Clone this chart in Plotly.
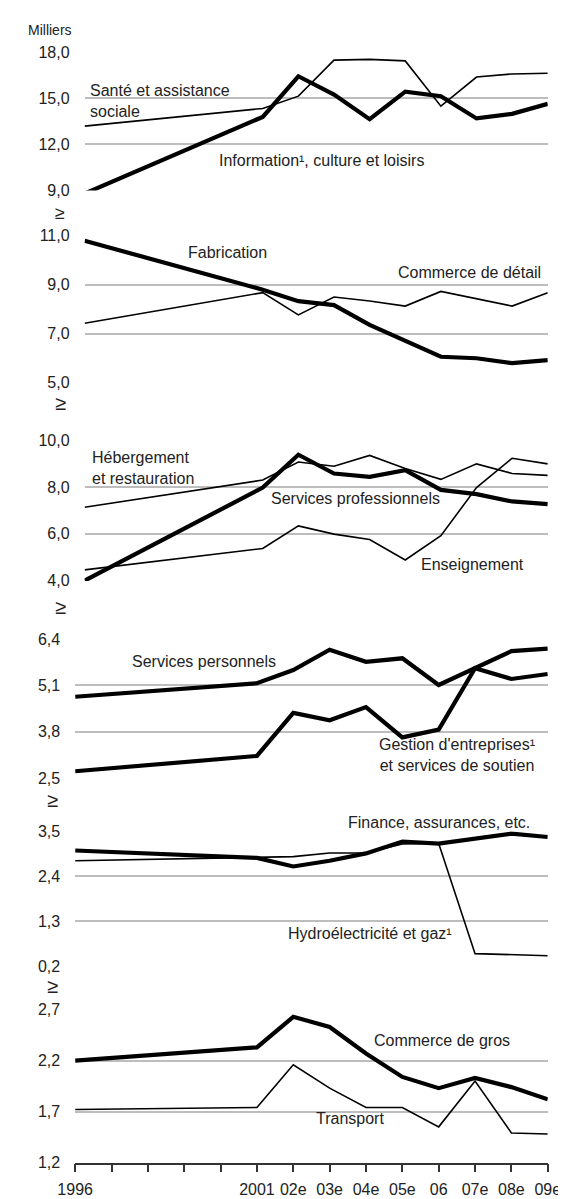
import plotly.graph_objects as go

FONT = "Liberation Sans, Arial, sans-serif"
W, H = 566, 1199

years = [1996, 2001, 2002, 2003, 2004, 2005, 2006, 2007, 2008, 2009]
tick_years = list(range(1996, 2010))
tick_labels = ["1996", "", "", "", "", "2001", "02e", "03e", "04e", "05e", "06", "07e", "08e", "09e"]

# panel 1
sante = [13.2, 14.35, 15.15, 17.5, 17.55, 17.45, 14.5, 16.4, 16.6, 16.65]
information = [8.8, 13.8, 16.45, 15.25, 13.65, 15.45, 15.15, 13.7, 14.0, 14.65]
# panel 2
fabrication = [10.8, 8.8, 8.33, 8.17, 7.36, 6.69, 6.06, 6.0, 5.8, 5.92]
commerce_detail = [7.43, 8.68, 7.77, 8.5, 8.34, 8.13, 8.73, 8.43, 8.13, 8.68]
# panel 3
hebergement = [7.13, 8.29, 9.06, 8.88, 9.34, 8.78, 8.32, 8.98, 8.57, 8.49]
services_pro = [4.01, 7.97, 9.37, 8.57, 8.43, 8.71, 7.87, 7.69, 7.38, 7.27]
enseignement = [4.47, 5.38, 6.34, 5.99, 5.76, 4.89, 5.92, 7.97, 9.22, 8.98]
# panel 4
services_perso = [4.78, 5.16, 5.53, 6.1, 5.76, 5.86, 5.11, 5.58, 6.06, 6.13]
gestion = [2.69, 3.12, 4.33, 4.12, 4.49, 3.64, 3.86, 5.58, 5.28, 5.42]
# panel 5
finance = [3.03, 2.85, 2.64, 2.78, 2.96, 3.25, 3.2, 3.31, 3.44, 3.36]
hydro = [2.78, 2.87, 2.88, 2.97, 2.97, 3.19, 3.2, 0.51, 0.49, 0.46]
# panel 6
commerce_gros = [2.2, 2.33, 2.63, 2.53, 2.27, 2.04, 1.93, 2.03, 1.94, 1.82]
transport = [1.72, 1.74, 2.16, 1.93, 1.74, 1.74, 1.55, 2.0, 1.49, 1.48]

y_ticks = [
    [9.0, 12.0, 15.0, 18.0],
    [5.0, 7.0, 9.0, 11.0],
    [4.0, 6.0, 8.0, 10.0],
    [2.5, 3.8, 5.1, 6.4],
    [0.2, 1.3, 2.4, 3.5],
    [1.2, 1.7, 2.2, 2.7],
]

# series of each panel: (values, thick?)
panels = [
    [(sante, False), (information, True)],
    [(commerce_detail, False), (fabrication, True)],
    [(hebergement, False), (enseignement, False), (services_pro, True)],
    [(services_perso, True), (gestion, True)],
    [(hydro, False), (finance, True)],
    [(transport, False), (commerce_gros, True)],
]

# pixel boxes of the panels: left, right, top, bottom
boxes = [
    (62, 552, 37, 177),
    (62, 552, 223, 372),
    (62, 552, 430, 573),
    (52, 552, 632, 773),
    (52, 552, 827, 964),
    (52, 552, 1008, 1163),
]

fig = go.Figure()
layout = dict()

for i, (series, ticks, box) in enumerate(zip(panels, y_ticks, boxes)):
    n = "" if i == 0 else str(i + 1)
    left, right, top, bottom = box
    for values, thick in series:
        fig.add_trace(go.Scatter(
            x=years, y=values, mode="lines",
            line=dict(color="black", width=4.2 if thick else 1.6),
            xaxis="x" + n, yaxis="y" + n, showlegend=False,
            hoverinfo="skip"
        ))
    last = i == len(panels) - 1
    layout["xaxis" + n] = dict(
        domain=[left / W, right / W],
        range=[1996, 2009],
        anchor="y" + n,
        showgrid=False,
        zeroline=False,
        showline=last,
        linecolor="#333333",
        linewidth=1.5,
        ticks="outside" if last else "",
        tickcolor="#333333",
        ticklen=8,
        tickwidth=1.5,
        tickvals=tick_years,
        ticktext=tick_labels,
        showticklabels=last,
        ticklabelstandoff=4,
        tickfont=dict(family=FONT, size=16, color="#222222"),
    )
    layout["yaxis" + n] = dict(
        domain=[1 - bottom / H, 1 - top / H],
        range=[ticks[0], ticks[-1]],
        anchor="x" + n,
        tickvals=ticks,
        ticktext=[("%.1f" % t).replace(".", ",") for t in ticks],
        showgrid=True,
        gridcolor="#bdbdbd",
        gridwidth=2,
        zeroline=False,
        showline=False,
        ticks="",
        ticklabelstandoff=14,
        tickfont=dict(family=FONT, size=16, color="#222222"),
    )

annotations = []


def label(text, x, y, panel, xanchor="center", align="center", yshift=0):
    n = "" if panel == 1 else str(panel)
    annotations.append(dict(
        text=text, x=x, y=y, xref="x" + n, yref="y" + n,
        xanchor=xanchor, yanchor="middle", align=align, showarrow=False,
        yshift=yshift,
        font=dict(family=FONT, size=16, color="#222222"),
    ))


label("Santé et assistance<br>sociale", 1996.1, 14.85, 1, xanchor="left", align="left")
label("Information¹, culture et loisirs", 2002.65, 10.95, 1)
label("Fabrication", 2000.0, 10.32, 2)
label("Commerce de détail", 2006.8, 9.51, 2)
label("Hébergement<br>et restauration", 1996.15, 8.8, 3, xanchor="left", align="left")
label("Services professionnels", 2003.6, 7.51, 3)
label("Enseignement", 2006.9, 4.68, 3)
label("Services personnels", 1999.55, 5.76, 4)
label("Gestion d'entreprises¹<br>et services de soutien", 2006.5, 3.14, 4)
label("Finance, assurances, etc.", 2006.0, 3.5, 5, yshift=9)
label("Hydroélectricité et gaz¹", 2004.1, 1.0, 5)
label("Commerce de gros", 2006.1, 2.4, 6)
label("Transport", 2003.56, 1.63, 6)

annotations.append(dict(
    text="Milliers", x=0, y=1 - 14 / H, xref="paper", yref="paper",
    xanchor="left", yanchor="middle", showarrow=False,
    font=dict(family=FONT, size=14, color="#222222"),
))

# axis break marks under the panels
for x_px, y_px, size in [(36, 200, 18), (36, 393, 20), (36, 599, 20), (28, 795, 20), (28, 984, 20)]:
    annotations.append(dict(
        text="≥", x=x_px / W, y=1 - y_px / H, xref="paper", yref="paper",
        xanchor="center", yanchor="middle", showarrow=False,
        font=dict(family=FONT, size=size, color="#222222"),
    ))

fig.update_layout(
    width=W,
    height=H,
    margin=dict(l=0, r=0, t=0, b=0),
    paper_bgcolor="white",
    plot_bgcolor="white",
    annotations=annotations,
    **layout
)

fig.write_html("out.html")
